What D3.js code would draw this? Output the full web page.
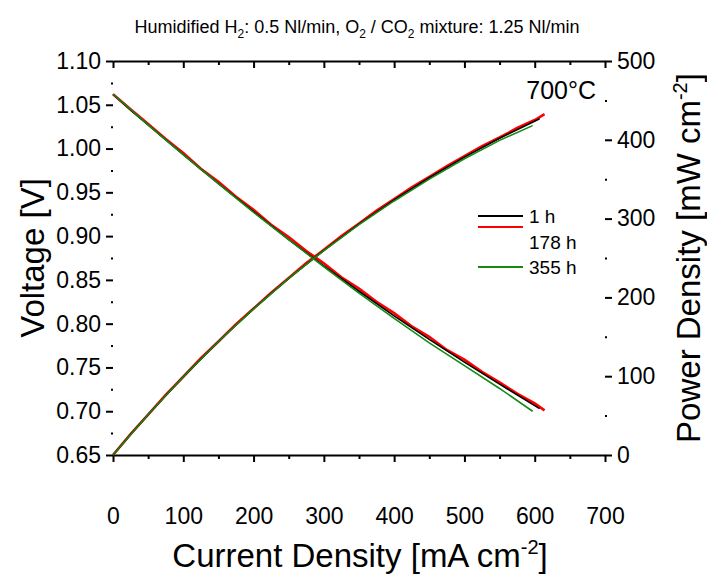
<!DOCTYPE html>
<html lang="en">
  <head>
    <meta charset="utf-8">
    <title>Voltage and power density vs current density</title>
    <script src="https://d3js.org/d3.v7.min.js"></script>
    <style>
      body { margin: 0; background: #fff; }
      text { font-family: "Liberation Sans", Arial, sans-serif; fill: #000; }
    </style>
  </head>

  <body>
    <svg id="chart" width="707" height="574"></svg>
    <script type="text/javascript">

        // tick labels
        var xTicks = [0, 100, 200, 300, 400, 500, 600, 700];
        var vTicks = [0.65, 0.70, 0.75, 0.80, 0.85, 0.90, 0.95, 1.00, 1.05, 1.10];
        var pTicks = [0, 100, 200, 300, 400, 500];

        // 1 h
        var j1h = [0, 25, 50, 100, 150, 200, 250, 300, 350, 400, 450, 500, 550, 607];
        var v1h = [1.062, 1.044, 1.027, 0.993, 0.960, 0.928, 0.896, 0.866, 0.837, 0.809, 0.782, 0.756, 0.731, 0.703];
        var p1h = [0, 26.1, 51.4, 99.3, 144.0, 185.6, 224.0, 259.8, 293.0, 323.6, 351.9, 378.0, 402.0, 426.7];

        // 178 h (noisy)
        var j178h = [0, 25, 50, 75, 100, 125, 150, 175, 200, 225, 250, 275, 300, 325, 350, 375, 400, 425, 450, 475, 500, 525, 550, 575, 600, 614];
        var v178h = [1.062, 1.045, 1.028, 1.011, 0.995, 0.977, 0.962, 0.945, 0.930, 0.913, 0.899, 0.883, 0.869, 0.853, 0.840, 0.825, 0.812, 0.797, 0.785, 0.770, 0.759, 0.745, 0.733, 0.720, 0.709, 0.701];
        var p178h = [0, 26.4, 51.2, 76.3, 99.3, 122.8, 144.0, 166.0, 185.8, 206.0, 224.6, 243.5, 260.4, 277.9, 293.7, 310.2, 324.6, 339.6, 353.0, 366.7, 379.2, 392.0, 402.9, 415.0, 425.1, 432.5];

        // 355 h
        var j355h = [0, 50, 100, 150, 200, 250, 300, 350, 400, 450, 500, 550, 597];
        var v355h = [1.062, 1.027, 0.993, 0.960, 0.927, 0.896, 0.865, 0.835, 0.806, 0.778, 0.752, 0.726, 0.700];
        var p355h = [0, 51.4, 99.3, 144.0, 185.4, 224.0, 259.5, 292.3, 322.4, 350.1, 376.0, 399.3, 418.0];

        var series = [
          { name: "178 h", color: "#ff0000", width: 2.6, j: j178h, v: v178h, p: p178h },
          { name: "1 h",   color: "#000000", width: 1.6, j: j1h,   v: v1h,   p: p1h },
          { name: "355 h", color: "#138a13", width: 1.6, j: j355h, v: v355h, p: p355h }
        ];

        var svg = d3.select("#chart");
        var plotL = 113, plotR = 605, plotT = 61, plotB = 455;

        var x = d3.scaleLinear().domain([0, 700]).range([plotL, plotR]);
        var yV = d3.scaleLinear().domain([0.65, 1.10]).range([plotB, plotT]);
        var yP = d3.scaleLinear().domain([0, 500]).range([plotB, plotT]);

        // title
        var title = svg.append("text")
            .attr("x", 357).attr("y", 33)
            .attr("text-anchor", "middle")
            .style("font-size", "18px");
        title.append("tspan").text("Humidified H");
        title.append("tspan").attr("dy", 5).style("font-size", "12px").text("2");
        title.append("tspan").attr("dy", -5).text(": 0.5 Nl/min, O");
        title.append("tspan").attr("dy", 5).style("font-size", "12px").text("2");
        title.append("tspan").attr("dy", -5).text(" / CO");
        title.append("tspan").attr("dy", 5).style("font-size", "12px").text("2");
        title.append("tspan").attr("dy", -5).text(" mixture: 1.25 Nl/min");

        function styleAxis(g, keepDomain) {
          if (!keepDomain) g.select(".domain").remove();
          else g.select(".domain").attr("stroke-width", 1.8);
          g.selectAll(".tick line").attr("stroke-width", 2);
          g.selectAll("text").style("font-size", "23px").attr("fill", "#000");
        }

        // bottom axis
        svg.append("g").attr("transform", "translate(0," + plotB + ")")
            .call(d3.axisBottom(x).tickValues(d3.range(50, 700, 100)).tickSize(4).tickSizeOuter(0).tickFormat(""))
            .call(function(g){ styleAxis(g, true); });
        svg.append("g").attr("transform", "translate(0," + plotB + ")")
            .call(d3.axisBottom(x).tickValues(xTicks).tickSize(7).tickPadding(46).tickFormat(d3.format("d")))
            .call(function(g){ g.select(".domain").remove(); styleAxis(g, true); });

        // top axis (mirror, no labels)
        svg.append("g").attr("transform", "translate(0," + plotT + ")")
            .call(d3.axisBottom(x).tickValues(d3.range(50, 700, 100)).tickSize(4).tickSizeOuter(0).tickFormat(""))
            .call(function(g){ styleAxis(g, true); });
        svg.append("g").attr("transform", "translate(0," + plotT + ")")
            .call(d3.axisBottom(x).tickValues(xTicks).tickSize(7).tickFormat(""))
            .call(function(g){ g.select(".domain").remove(); styleAxis(g, true); });

        // left axis
        svg.append("g").attr("transform", "translate(" + plotL + ",0)")
            .call(d3.axisLeft(yV).tickValues(d3.range(0.675, 1.1, 0.05)).tickSize(2).tickFormat(""))
            .call(function(g){ styleAxis(g, false); });
        svg.append("g").attr("transform", "translate(" + plotL + ",0)")
            .call(d3.axisLeft(yV).tickValues(vTicks).tickSize(7).tickPadding(5).tickFormat(d3.format(".2f")))
            .call(function(g){ styleAxis(g, false); });

        // right axis
        svg.append("g").attr("transform", "translate(" + plotR + ",0)")
            .call(d3.axisRight(yP).tickValues(d3.range(50, 500, 100)).tickSize(2).tickFormat(""))
            .call(function(g){ styleAxis(g, false); });
        svg.append("g").attr("transform", "translate(" + plotR + ",0)")
            .call(d3.axisRight(yP).tickValues(pTicks).tickSize(7).tickPadding(5).tickFormat(d3.format("d")))
            .call(function(g){ styleAxis(g, false); });

        // curves
        series.forEach(function(s) {
          var idx = d3.range(s.j.length);
          var lineV = d3.line().x(function(i){ return x(s.j[i]); }).y(function(i){ return yV(s.v[i]); });
          var lineP = d3.line().x(function(i){ return x(s.j[i]); }).y(function(i){ return yP(s.p[i]); });
          svg.append("path").datum(idx).attr("d", lineV)
              .attr("fill", "none").attr("stroke", s.color).attr("stroke-width", s.width);
          svg.append("path").datum(idx).attr("d", lineP)
              .attr("fill", "none").attr("stroke", s.color).attr("stroke-width", s.width);
        });

        // legend
        var legend = [
          { label: "1 h",   color: "#000000", ly: 216, ty: 223 },
          { label: "",      color: "#ff0000", ly: 227, ty: 0 },
          { label: "178 h", color: null,      ly: 0,   ty: 249 },
          { label: "355 h", color: "#138a13", ly: 267, ty: 274 }
        ];
        legend.forEach(function(d) {
          if (d.color) {
            svg.append("line").attr("x1", 478).attr("x2", 523)
                .attr("y1", d.ly).attr("y2", d.ly)
                .attr("stroke", d.color).attr("stroke-width", 1.8);
          }
          if (d.label) {
            svg.append("text").attr("x", 529).attr("y", d.ty)
                .style("font-size", "19px").text(d.label);
          }
        });

        svg.append("text").attr("x", 596).attr("y", 99)
            .attr("text-anchor", "end").style("font-size", "25px").text("700°C");

        // axis titles
        var xt = svg.append("text").attr("x", 360).attr("y", 567)
            .attr("text-anchor", "middle").style("font-size", "33px");
        xt.append("tspan").text("Current Density [mA cm");
        xt.append("tspan").attr("dy", -13).style("font-size", "20px").text("-2");
        xt.append("tspan").attr("dy", 13).text("]");

        svg.append("text")
            .attr("transform", "translate(44,258) rotate(-90)")
            .attr("text-anchor", "middle").style("font-size", "33px")
            .text("Voltage [V]");

        var yt = svg.append("text")
            .attr("transform", "translate(700,258) rotate(-90)")
            .attr("text-anchor", "middle").style("font-size", "33px");
        yt.append("tspan").text("Power Density [mW cm");
        yt.append("tspan").attr("dy", -13).style("font-size", "20px").text("-2");
        yt.append("tspan").attr("dy", 13).text("]");

    </script>
</body>
</html>
